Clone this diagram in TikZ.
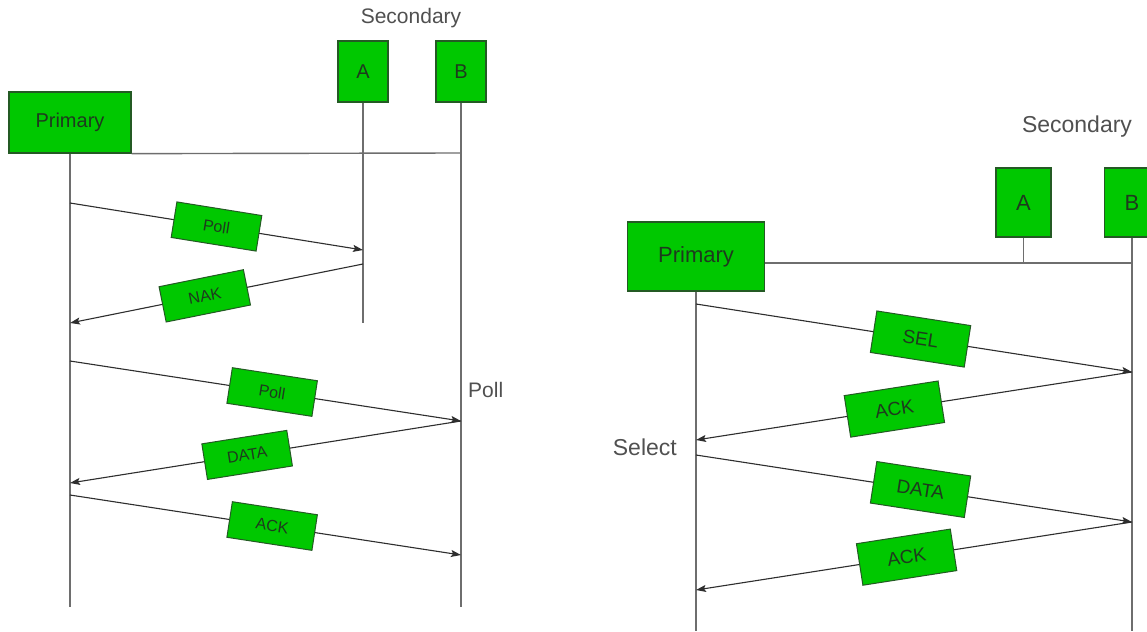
\documentclass[tikz,border=0pt]{standalone}
\usepackage{fontspec}
\setmainfont{Liberation Sans}
\usetikzlibrary{arrows.meta}
\definecolor{boxgreen}{HTML}{00C800}
\definecolor{boxline}{HTML}{245A24}
\definecolor{lifegray}{HTML}{6E6E6E}
\definecolor{msggray}{HTML}{2E2E2E}
\definecolor{labgray}{HTML}{505050}
\definecolor{boxtext}{HTML}{1E3A1E}
\begin{document}
\begin{tikzpicture}[x=1pt,y=-1pt,
  ent/.style={draw=boxline, fill=boxgreen, line width=1.3pt, text=boxtext, inner sep=0pt},
  entfontL/.style={font=\fontsize{20}{23}\selectfont},
  entfontR/.style={font=\fontsize{22}{25}\selectfont},
  life/.style={draw=lifegray, line width=1.4pt},
  msg/.style={draw=msggray, line width=1.1pt, -{Stealth[length=10pt,width=7pt,inset=2pt]}},
  msgL/.style={draw=boxline, fill=boxgreen, line width=1pt, minimum width=86pt, minimum height=36pt, inner sep=0pt, font=\fontsize{16}{18}\selectfont, text=boxtext, sloped},
  msgR/.style={draw=boxline, fill=boxgreen, line width=1pt, minimum width=95pt, minimum height=42pt, inner sep=0pt, font=\fontsize{19}{22}\selectfont, text=boxtext, sloped},
  lab/.style={text=labgray, inner sep=0pt, font=\fontsize{21}{24}\selectfont}]
\useasboundingbox (0,0) rectangle (1147,631);
\fill[white] (0,0) rectangle (1147,631);

% ---------------- Left diagram (Poll) ----------------
\node[ent, entfontL, minimum width=122pt, minimum height=61pt] (P1) at (70,122.5) {Primary};
\node[ent, entfontL, minimum width=50pt, minimum height=61pt] (A1) at (363,71.5) {A};
\node[ent, entfontL, minimum width=50pt, minimum height=61pt] (B1) at (461,71.5) {B};
\node[lab] (S1) at (411,18) {Secondary};

\coordinate (B1bus) at (461,153);
\coordinate (P1end) at (70,607);
\coordinate (A1end) at (363,323);
\coordinate (B1end) at (461,607);
\draw[life] (P1.south east) -- (B1bus);
\draw[life] (P1.south) -- (P1end);
\draw[life] (A1.south) -- (A1end);
\draw[life] (B1.south) -- (B1end);

\coordinate (m1s) at (70,203);  \coordinate (m1e) at (363,250);
\coordinate (m2s) at (363,264); \coordinate (m2e) at (70,323);
\coordinate (m3s) at (70,361);  \coordinate (m3e) at (461,421);
\coordinate (m4s) at (461,421); \coordinate (m4e) at (70,483);
\coordinate (m5s) at (70,495);  \coordinate (m5e) at (461,555);

\draw[msg] (m1s) -- node[msgL, pos=0.50] (L1) {Poll} (m1e);
\draw[msg] (m2s) -- node[msgL, pos=0.54] (L2) {NAK} (m2e);
\draw[msg] (m3s) -- node[msgL, pos=0.517] (L3) {Poll} (m3e);
\draw[msg] (m4s) -- node[msgL, pos=0.547] (L4) {DATA} (m4e);
\draw[msg] (m5s) -- node[msgL, pos=0.517] (L5) {ACK} (m5e);

\node[lab, anchor=west] (PollT) at (468,390) {Poll};

% ---------------- Right diagram (Select) ----------------
\node[ent, entfontR, minimum width=137pt, minimum height=69pt] (P2) at (696,256.5) {Primary};
\node[ent, entfontR, minimum width=55pt, minimum height=69pt] (A2) at (1023.5,202.5) {A};
\node[ent, entfontR, minimum width=55pt, minimum height=69pt] (B2) at (1132,202.5) {B};
\node[lab, font=\fontsize{23}{26}\selectfont] (S2) at (1077,127) {Secondary};

\coordinate (B2bus) at (1132,263);
\coordinate (P2end) at (696,631);
\coordinate (B2end) at (1132,631);
\draw[life] (P2.east |- B2bus) -- (B2bus);
\draw[life] (A2.south) -- (A2.south |- B2bus);
\draw[life] (P2.south) -- (P2end);
\draw[life] (B2.south) -- (B2end);

\coordinate (r1s) at (696,304);  \coordinate (r1e) at (1132,372);
\coordinate (r2s) at (1132,372); \coordinate (r2e) at (696,440);
\coordinate (r3s) at (696,455);  \coordinate (r3e) at (1132,522);
\coordinate (r4s) at (1132,522); \coordinate (r4e) at (696,590);

\draw[msg] (r1s) -- node[msgR, pos=0.515] (R1) {SEL} (r1e);
\draw[msg] (r2s) -- node[msgR, pos=0.545] (R2) {ACK} (r2e);
\draw[msg] (r3s) -- node[msgR, pos=0.515] (R3) {DATA} (r3e);
\draw[msg] (r4s) -- node[msgR, pos=0.517] (R4) {ACK} (r4e);

\node[lab, anchor=east, font=\fontsize{23}{26}\selectfont] (SelT) at (677,447) {Select};
\end{tikzpicture}
\end{document}
